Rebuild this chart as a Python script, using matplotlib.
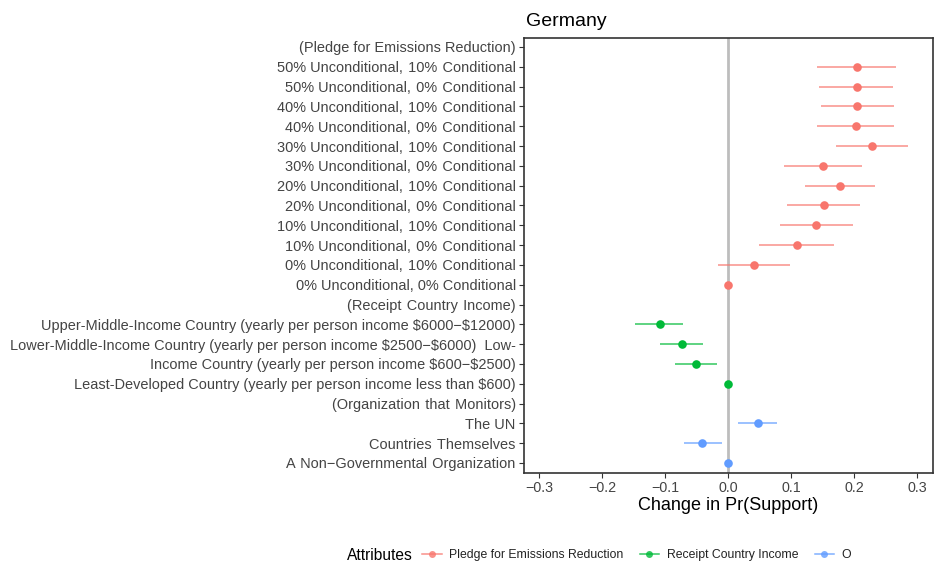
import matplotlib
matplotlib.use("Agg")
import matplotlib.pyplot as plt
from matplotlib.lines import Line2D
from matplotlib.transforms import Bbox

plt.rcParams['font.family'] = ['Liberation Sans', 'DejaVu Sans']

S = " \u200a"  # slightly wider word gap, as in the reference labels

labels = [
    "(Pledge for Emissions Reduction)",
    f"50% Unconditional,{S}10%{S}Conditional",
    f"50% Unconditional,{S}0%{S}Conditional",
    f"40% Unconditional,{S}10%{S}Conditional",
    f"40% Unconditional,{S}0%{S}Conditional",
    f"30% Unconditional,{S}10%{S}Conditional",
    f"30% Unconditional,{S}0%{S}Conditional",
    f"20% Unconditional,{S}10%{S}Conditional",
    f"20% Unconditional,{S}0%{S}Conditional",
    f"10% Unconditional,{S}10%{S}Conditional",
    f"10% Unconditional,{S}0%{S}Conditional",
    f"0% Unconditional,{S}10%{S}Conditional",
    "0% Unconditional, 0% Conditional",
    f"(Receipt{S}Country{S}Income)",
    "Upper-Middle-Income Country (yearly per person income \\$6000\u2212\\$12000)",
    "Lower-Middle-Income Country (yearly per person income \\$2500\u2212\\$6000)  Low-",
    "Income Country (yearly per person income \\$600\u2212\\$2500)",
    "Least-Developed Country (yearly per person income less than \\$600)",
    f"(Organization{S}that{S}Monitors)",
    "The UN",
    f"Countries{S}Themselves",
    f"A{S}Non\u2212Governmental{S}Organization",
]

# None = header row (no estimate)
estimate = [None, 0.205, 0.205, 0.205, 0.203, 0.229, 0.151, 0.178, 0.152, 0.140, 0.109, 0.041, 0.0,
            None, -0.108, -0.073, -0.051, 0.0,
            None, 0.047, -0.041, 0.0]
lower = [None, 0.142, 0.145, 0.147, 0.142, 0.171, 0.089, 0.122, 0.093, 0.083, 0.049, -0.016, 0.0,
         None, -0.147, -0.108, -0.084, 0.0,
         None, 0.016, -0.070, 0.0]
upper = [None, 0.266, 0.262, 0.264, 0.264, 0.285, 0.212, 0.234, 0.210, 0.198, 0.169, 0.098, 0.0,
         None, -0.071, -0.039, -0.018, 0.0,
         None, 0.077, -0.009, 0.0]
group = [None] + ["Pledge for Emissions Reduction"] * 12 + [None] + ["Receipt Country Income"] * 4 + \
        [None] + ["Organization that Monitors"] * 3

group_names = ["Pledge for Emissions Reduction", "Receipt Country Income", "Organization that Monitors"]
group_colors = {"Pledge for Emissions Reduction": "#F8766D",
                "Receipt Country Income": "#00BA38",
                "Organization that Monitors": "#619CFF"}

xticks = [-0.3, -0.2, -0.1, 0.0, 0.1, 0.2, 0.3]
xticklabels = ["\u22120.3", "\u22120.2", "\u22120.1", "0.0", "0.1", "0.2", "0.3"]

fig = plt.figure(figsize=(9.45, 5.68), dpi=100)
ax = fig.add_axes([524/945, 1-473/568, (933-524)/945, (473-38)/568])

n = len(labels)
ypos = [n - 1 - i for i in range(n)]

ax.axvline(0, color="#bdbdbd", lw=2, zorder=1)

for i in range(n):
    if estimate[i] is None:
        continue
    c = group_colors[group[i]]
    ax.plot([lower[i], upper[i]], [ypos[i], ypos[i]], color=c, lw=1.1, alpha=0.8, zorder=2,
            solid_capstyle='butt')
    ax.plot(estimate[i], ypos[i], 'o', color=c, markersize=6.2, markeredgewidth=0, zorder=3)

ax.set_xlim(-0.3238, 0.3254)
ax.set_ylim(-0.505, n - 1 + 0.454)
ax.set_yticks(ypos)
ax.set_yticklabels(labels, fontsize=10.45, color="#444444")
ax.set_xticks(xticks)
ax.set_xticklabels(xticklabels, fontsize=10.3, color="#444444")
ax.tick_params(axis='both', direction='out', length=3.5, width=0.8, color="#333333", pad=2.5)
for s in ax.spines.values():
    s.set_color("#333333")
    s.set_linewidth(1.2)
ax.set_xlabel("Change in Pr(Support)", fontsize=13, labelpad=1)

fig.text(526/945, 1-26/568, "Germany", fontsize=14, ha='left', va='baseline')

fig.text(347/945, 1-555/568, "Attributes", fontsize=11.2, ha='left', va='center')
handles = [Line2D([0], [0], color=group_colors[g], lw=1.1, alpha=0.8, marker='o',
                  markersize=5, markeredgewidth=0) for g in group_names]
leg = fig.legend(handles, group_names, loc='center left', bbox_to_anchor=(422/945, 1-555/568),
                 ncol=3, frameon=False, fontsize=8.8, handlelength=1.6, handletextpad=0.65,
                 columnspacing=1.3, borderaxespad=0, borderpad=0)
for t in leg.get_texts():
    t.set_color("#222222")

# the reference legend is cut off right after the first letter of the third entry
fig.canvas.draw()
t3 = leg.get_texts()[2]
x0 = t3.get_window_extent().x0
t3.set_clip_box(Bbox([[0, 0], [x0 + 10, 568]]))
t3.set_clip_on(True)

fig.savefig("out.png", dpi=100)
